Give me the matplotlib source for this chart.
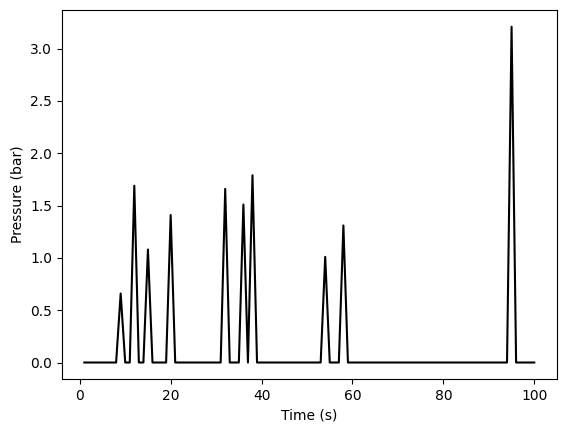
import numpy as np
import matplotlib
matplotlib.use("Agg")
import matplotlib.pyplot as plt

time = list(range(1, 101))
pressure = [
    0, 0, 0, 0, 0, 0, 0, 0, 0.66, 0,
    0, 1.69, 0, 0, 1.08, 0, 0, 0, 0, 1.41,
    0, 0, 0, 0, 0, 0, 0, 0, 0, 0,
    0, 1.66, 0, 0, 0, 1.51, 0, 1.79, 0, 0,
    0, 0, 0, 0, 0, 0, 0, 0, 0, 0,
    0, 0, 0, 1.01, 0, 0, 0, 1.31, 0, 0,
    0, 0, 0, 0, 0, 0, 0, 0, 0, 0,
    0, 0, 0, 0, 0, 0, 0, 0, 0, 0,
    0, 0, 0, 0, 0, 0, 0, 0, 0, 0,
    0, 0, 0, 0, 3.21, 0, 0, 0, 0, 0,
]

fig, ax = plt.subplots(figsize=(5.67, 4.32), dpi=100)
fig.subplots_adjust(left=0.109, right=0.982, top=0.977, bottom=0.122)
ax.plot(time, pressure, color="black")
ax.set_xlabel("Time (s)")
ax.set_ylabel("Pressure (bar)")
fig.savefig("out.png")
